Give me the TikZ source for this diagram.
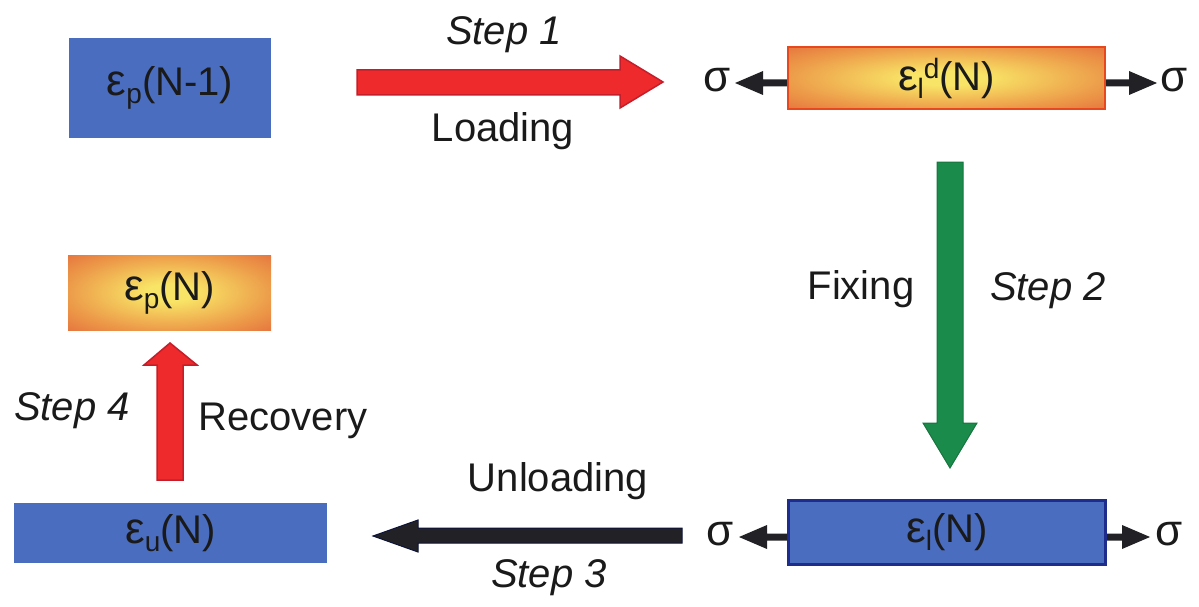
\documentclass[tikz,border=0pt]{standalone}
\usepackage{fontspec}
\setmainfont{Liberation Sans}
\definecolor{boxblue}{HTML}{4A6DC0}
\definecolor{navy}{HTML}{1E2C8C}
\definecolor{orgout}{HTML}{E2603A}
\definecolor{orgmid}{HTML}{EC9848}
\definecolor{orgin}{HTML}{F8E466}
\definecolor{orgedge}{HTML}{E8481E}
\definecolor{arrred}{HTML}{EE2A2C}
\definecolor{arrredd}{HTML}{C41E2A}
\definecolor{arrgreen}{HTML}{1B8B4B}
\definecolor{arrgreend}{HTML}{16743E}
\definecolor{arrblack}{HTML}{222226}
\definecolor{txt}{HTML}{1A1A1A}
\pgfdeclareradialshading{glow}{\pgfpoint{0bp}{0bp}}{%
  color(0bp)=(orgin); color(6bp)=(orgin); color(26bp)=(orgmid); color(42bp)=(orgout); color(50bp)=(orgout)}
\newcommand{\lowsub}[1]{\raisebox{-0.2em}{\fontsize{28}{28}\selectfont #1}}
\newcommand{\highsup}[1]{\raisebox{0.3em}{\fontsize{28}{28}\selectfont #1}}
\newcommand{\eps}{{\fontsize{44}{48}\selectfont ε}}
% small horizontal block arrow: #1 start x, #2 tip x, #3 centre y, #4 direction (+1 right, -1 left)
\newcommand{\sigblock}[4]{%
  \fill[arrblack] (#1,#3-3.5) -- (#2-#4*28,#3-3.5) -- (#2-#4*28,#3-12) -- (#2,#3) -- (#2-#4*28,#3+12) -- (#2-#4*28,#3+3.5) -- (#1,#3+3.5) -- cycle;}
\begin{document}
\begin{tikzpicture}[x=1pt,y=-1pt,
  lbl/.style={font=\fontsize{40}{48}\selectfont, text=txt, inner sep=0pt},
  steplbl/.style={lbl, font=\fontsize{40}{48}\selectfont\itshape},
  bluebox/.style={rectangle, inner sep=0pt, fill=boxblue, font=\fontsize{40}{48}\selectfont, text=txt},
  orgbox/.style={rectangle, inner sep=0pt, shading=glow, font=\fontsize{40}{48}\selectfont, text=txt},
  redarr/.style={fill=arrred, draw=arrredd, line width=1.5pt, line join=miter},
]
\useasboundingbox (0,0) rectangle (1199,607);

% boxes
\node[orgbox, draw=orgedge, line width=2pt, minimum width=317pt, minimum height=62pt] (b2) at (946.5,78) {\eps\lowsub{l}\highsup{d}(N)};
\node[orgbox, minimum width=203pt, minimum height=75pt] (b3) at (169.5,292.5) {\eps\lowsub{p}(N)};
\node[bluebox, minimum width=202pt, minimum height=100pt] (b1) at (170,88) {\eps\lowsub{p}(N-1)};
\node[bluebox, minimum width=313pt, minimum height=60pt] (b4) at (170.5,533) {\eps\lowsub{u}(N)};
\node[bluebox, draw=navy, line width=3pt, minimum width=317pt, minimum height=64pt] (b5) at (947,532.5) {\eps\lowsub{l}(N)};

% sigma labels and force arrows
\node[lbl, font=\fontsize{44}{48}\selectfont] (s1) at (717,80) {σ};
\node[lbl, font=\fontsize{44}{48}\selectfont] (s2) at (1174,80) {σ};
\node[lbl, font=\fontsize{44}{48}\selectfont] (s3) at (720,534) {σ};
\node[lbl, font=\fontsize{44}{48}\selectfont] (s4) at (1169,534) {σ};
\sigblock{787}{735}{83}{-1}
\sigblock{1106}{1157}{83}{1}
\sigblock{787}{739}{537}{-1}
\sigblock{1107}{1150}{537}{1}

% step 1 (red, right)
\draw[redarr] (357,70) -- (620,70) -- (620,56) -- (663,82) -- (620,108) -- (620,95) -- (357,95) -- cycle;
% step 2 (green, down)
\draw[fill=arrgreen, draw=arrgreend, line width=1pt] (937,162) -- (963,162) -- (963,423) -- (977,423) -- (950,468) -- (923,423) -- (937,423) -- cycle;
% step 3 (black, left)
\draw[fill=arrblack, draw=navy!40!black, line width=1pt] (682,528) -- (418,528) -- (418,520) -- (373,536) -- (418,552) -- (418,543) -- (682,543) -- cycle;
% step 4 (red, up)
\draw[redarr] (157,480) -- (157,365) -- (144,365) -- (170,343) -- (197,365) -- (183,365) -- (183,480) -- cycle;

% labels
\node[steplbl] (t1) at (504,35) {Step 1};
\node[lbl] (t2) at (503,131) {Loading};
\node[lbl] (t3) at (861,289) {Fixing};
\node[steplbl] (t4) at (1048,291) {Step 2};
\node[steplbl] (t5) at (72,411) {Step 4};
\node[lbl] (t6) at (283,421) {Recovery};
\node[lbl] (t7) at (558,481) {Unloading};
\node[steplbl] (t8) at (549,578) {Step 3};
\end{tikzpicture}
\end{document}
